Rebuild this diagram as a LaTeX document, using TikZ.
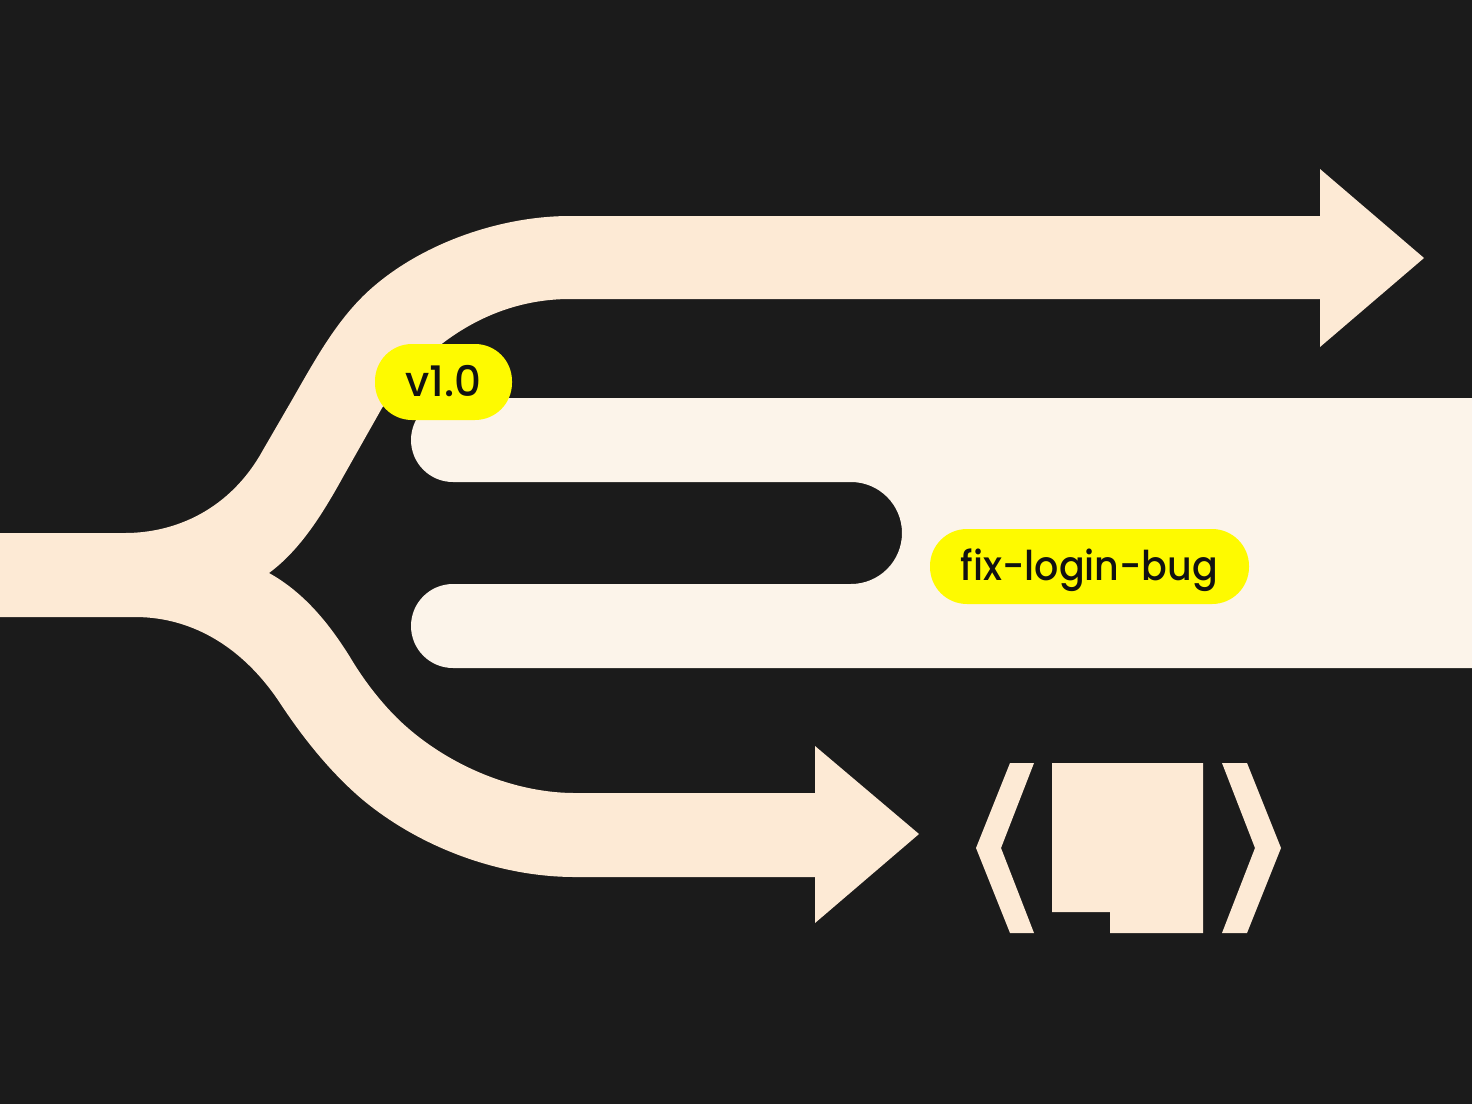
\documentclass[tikz,border=0pt]{standalone}
\usepackage{fontspec}
\setmainfont{Poppins Medium}
\definecolor{bgdark}{HTML}{1B1B1B}
\definecolor{peach}{HTML}{FDEAD5}
\definecolor{cream}{HTML}{FCF4EA}
\definecolor{badge}{HTML}{FEFA00}
\definecolor{ink}{HTML}{111111}
\tikzset{
  flow/.style={fill=peach,draw=none},
  trunk/.style={fill=cream,draw=none},
  pill/.style={fill=badge,draw=none,rectangle,text=ink,inner sep=0pt,text height=14pt,text depth=0pt,rounded corners=18.5pt}
}
\begin{document}
\begin{tikzpicture}[x=0.5pt,y=-0.5pt]
\useasboundingbox (0,0) rectangle (1472,1104);
\fill[bgdark] (0,0) rectangle (1472,1104);
% forked arrows
\path[flow] (0,533) -- (125,533)
  .. controls (175,533) and (230,510) .. (263,450)
  -- (292,400)
  .. controls (315,360) and (338,317) .. (373,287)
  .. controls (425,242) and (502,216) .. (570,216)
  -- (1320,216) -- (1320,169) -- (1424,258) -- (1320,347) -- (1320,299) -- (570,299)
  .. controls (490,299) and (425,345) .. (382,408)
  -- (343,477)
  .. controls (322,515) and (300,550) .. (269,573)
  .. controls (305,593) and (330,625) .. (350,657)
  .. controls (363,679) and (379,700) .. (397,718)
  .. controls (443,763) and (511,793) .. (575,793)
  -- (815,793) -- (815,746) -- (919,834) -- (815,923) -- (815,877) -- (575,877)
  .. controls (500,877) and (421,848) .. (363,800)
  .. controls (331,773) and (303,738) .. (280,703)
  .. controls (245,650) and (195,617) .. (135,617)
  -- (0,617) -- cycle;
% trunk band
\path[trunk] (1472,398) -- (453,398)
  arc[start angle=90,end angle=270,x radius=42,y radius=-42]
  -- (851,482)
  arc[start angle=90,end angle=-90,x radius=51,y radius=-51]
  -- (453,584)
  arc[start angle=90,end angle=270,x radius=42,y radius=-42]
  -- (1472,668) -- cycle;
% icon
\path[flow] (1010,763) -- (1034,763) -- (1001,848) -- (1034,933) -- (1010,933) -- (976,848) -- cycle;
\path[flow] (1052,763) -- (1203,763) -- (1203,933) -- (1110,933) -- (1110,912) -- (1052,912) -- cycle;
\path[flow] (1222,763) -- (1247,763) -- (1281,848) -- (1247,933) -- (1222,933) -- (1255,848) -- cycle;
% labels
\node[pill,minimum width=68.5pt,minimum height=38pt,font=\fontsize{21}{24}\selectfont] (tag) at (443.5,382) {v1.0};
\node[pill,minimum width=159.5pt,minimum height=37.5pt,font=\fontsize{20.5}{24}\selectfont\addfontfeature{FakeStretch=0.927}] (branch) at (1089.5,566.5) {fix-login-bug};
\end{tikzpicture}
\end{document}
